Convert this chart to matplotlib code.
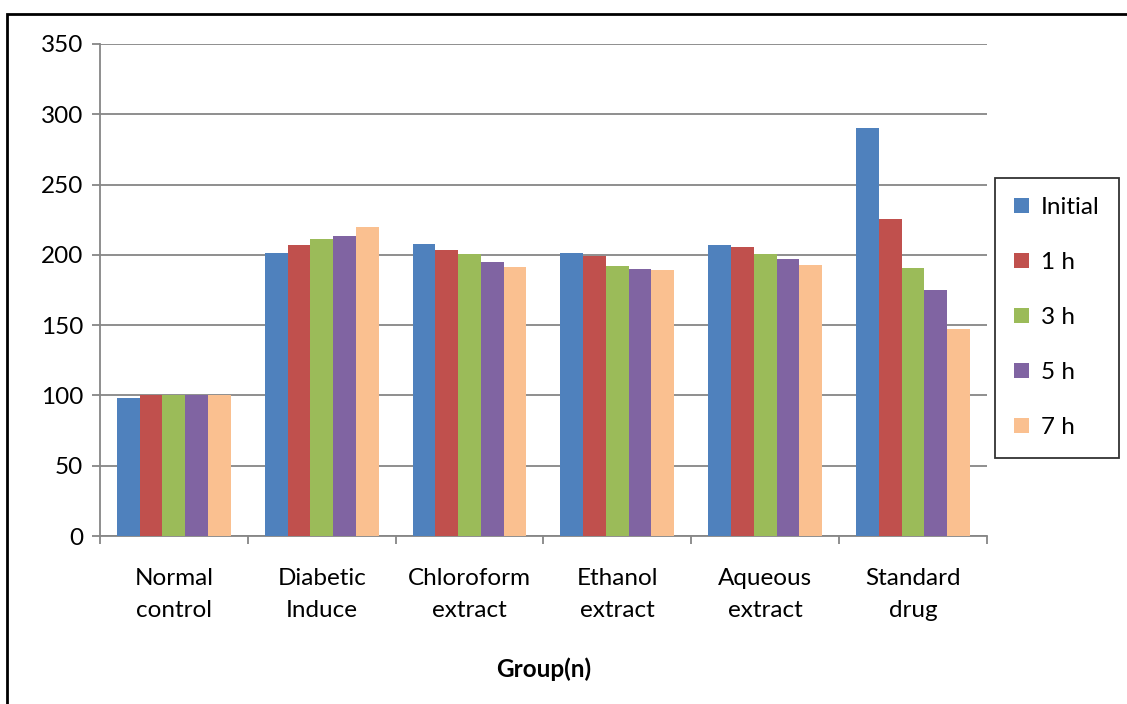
import numpy as np
import matplotlib.pyplot as plt
from matplotlib.patches import Rectangle

plt.rcParams['font.family'] = ['Lato', 'DejaVu Sans']

groups = ["Normal\ncontrol", "Diabetic\nInduce", "Chloroform\nextract",
          "Ethanol\nextract", "Aqueous\nextract", "Standard\ndrug"]
series = ["Initial", "1 h", "3 h", "5 h", "7 h"]

initial = [98.5, 201.5, 208, 201, 207, 290]
h1 = [100, 207, 203.5, 199, 205.5, 225.5]
h3 = [100, 211, 200.5, 192, 200.5, 190.5]
h5 = [100, 213.5, 195, 190, 197, 175]
h7 = [100, 220, 191, 189, 193, 147.5]

colors = ["#4F81BD", "#C0504D", "#9BBB59", "#8064A2", "#FAC090"]

fig = plt.figure(figsize=(11.27, 7.04), dpi=100)
ax = fig.add_axes([0.0887, 0.2386, 0.787, 0.699])

x = np.arange(len(groups))
w = 0.154
for i, (vals, name) in enumerate(zip([initial, h1, h3, h5, h7], series)):
    ax.bar(x + (i - 2) * w, vals, w, color=colors[i], label=name, zorder=3)

ax.set_xlim(-0.5, len(groups) - 0.5)
ax.set_ylim(0, 350)
ax.set_yticks(np.arange(0, 351, 50))
ax.yaxis.grid(True, color="#868686", linewidth=1.3, zorder=0)

ax.set_xticks(np.arange(-0.5, len(groups), 1))
ax.set_xticklabels([])
ax.set_xticks(x, minor=True)
ax.set_xticklabels(groups, minor=True, fontsize=17.5, linespacing=1.65)
ax.tick_params(axis='x', which='minor', length=0, pad=23)
ax.tick_params(axis='x', which='major', length=6, color="#868686", width=1.3)
ax.tick_params(axis='y', length=6, color="#868686", width=1.3, labelsize=17.5, pad=6)

for s in ["top", "right"]:
    ax.spines[s].set_visible(False)
for s in ["left", "bottom"]:
    ax.spines[s].set_color("#868686")
    ax.spines[s].set_linewidth(1.3)

ax.set_xlabel("Group(n)", fontsize=17.5, fontweight="bold", labelpad=26)

leg = ax.legend(loc="upper left", bbox_to_anchor=(1.009, 0.728), fontsize=17.5,
                frameon=True, fancybox=False, edgecolor="black", handlelength=0.6,
                handleheight=0.6, labelspacing=1.4, borderpad=0.8, handletextpad=0.5,
                borderaxespad=0)
leg.get_frame().set_linewidth(1.3)

fig.patches.append(Rectangle((7 / 1127, -0.01), 1.02, 1 - 14 / 704 + 0.01,
                             transform=fig.transFigure, fill=False,
                             edgecolor="black", linewidth=2))

fig.savefig("out.png", dpi=100)
